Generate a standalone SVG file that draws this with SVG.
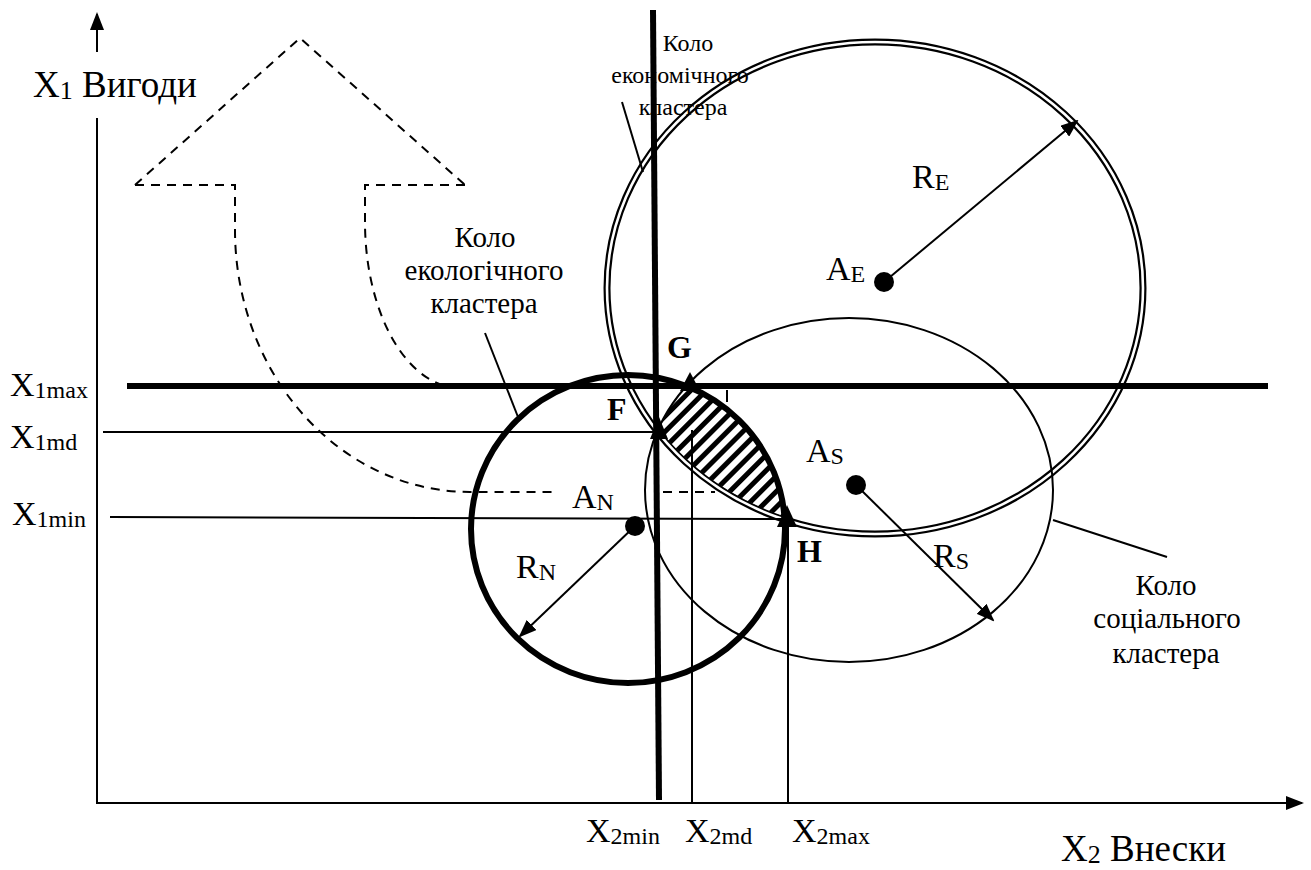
<svg xmlns="http://www.w3.org/2000/svg" width="1311" height="870" viewBox="0 0 1311 870">
<style>
.lbl{font-size:34px}
.ttl{font-size:37px}
.sub{font-size:24px}
.subT{font-size:26px}
.cap{font-size:29px;text-anchor:middle}
.capS{font-size:24px;text-anchor:middle}
.bold{font-size:32px;font-weight:bold}
.thin{stroke:#000;stroke-width:2;fill:none}
.thick{stroke:#000;stroke-width:6;fill:none}
.dash{stroke:#000;stroke-width:2;fill:none;stroke-dasharray:9,7}
</style>
<defs>
<marker id="ah" markerUnits="userSpaceOnUse" markerWidth="18" markerHeight="14" refX="16" refY="7" orient="auto">
<path d="M0,0 L18,7 L0,14 Z" fill="#000"/>
</marker>
<pattern id="hatch" patternUnits="userSpaceOnUse" width="11" height="11" patternTransform="rotate(-45)">
<rect width="11" height="11" fill="#fff"/>
<rect y="3" width="11" height="5" fill="#000"/>
</pattern>
<clipPath id="cE"><ellipse cx="875" cy="288" rx="265" ry="243"/></clipPath>
<clipPath id="cS"><ellipse cx="849" cy="490" rx="204" ry="172"/></clipPath>
<clipPath id="cN"><ellipse cx="628" cy="529" rx="157" ry="154"/></clipPath>
</defs>
<rect width="1311" height="870" fill="#fff"/>

<g id="axes">
<line class="thin" x1="97" y1="52" x2="97" y2="14" marker-end="url(#ah)"/>
<line class="thin" x1="97" y1="118" x2="97" y2="803"/>
<line class="thin" x1="96" y1="803" x2="1302" y2="803" marker-end="url(#ah)"/>
</g>

<g id="big-arrow">
<path class="dash" d="M135,185 L300,38 L465,185"/>
<path class="dash" d="M135,185 L235,185 L235,230 A235,262 0 0 0 470,492 L552,492"/>
<path class="dash" d="M663,492 L715,492"/>
<path class="dash" d="M465,185 L365,185 L365,220 A95,166 0 0 0 460,388 L560,388"/>
</g>

<g id="economic-circle">
<ellipse cx="875" cy="288" rx="268" ry="246" fill="none" stroke="#000" stroke-width="7"/>
<ellipse cx="875" cy="288" rx="268" ry="246" fill="none" stroke="#fff" stroke-width="2.6"/>
</g>

<g id="hatched-area" clip-path="url(#cE)">
<g clip-path="url(#cS)">
<rect x="640" y="370" width="160" height="170" fill="url(#hatch)" clip-path="url(#cN)"/>
</g>
</g>

<g id="social-circle">
<ellipse class="thin" cx="849" cy="490" rx="204" ry="172"/>
</g>

<g id="ecological-circle">
<ellipse class="thick" cx="628" cy="529" rx="157" ry="154" stroke-width="5"/>
</g>

<g id="connectors">
<line class="thick" x1="127" y1="386" x2="1268" y2="386"/>
<line class="thick" x1="653" y1="10" x2="659" y2="800"/>
<line class="thin" x1="103" y1="432" x2="657" y2="432"/>
<line class="thin" x1="110" y1="517" x2="787" y2="519"/>
<line class="thin" x1="692" y1="430" x2="692" y2="803"/>
<line class="thin" x1="788" y1="522" x2="788" y2="803"/>
<line class="thin" x1="727" y1="390" x2="727" y2="402"/>
<line class="thin" x1="622" y1="102" x2="643" y2="172"/>
<line class="thin" x1="485" y1="333" x2="518" y2="417"/>
<line class="thin" x1="1053" y1="520" x2="1167" y2="557"/>
<line class="thin" x1="884" y1="282" x2="1077" y2="121" marker-end="url(#ah)"/>
<line class="thin" x1="855" y1="484" x2="993" y2="620" marker-end="url(#ah)"/>
<line class="thin" x1="635" y1="526" x2="520" y2="636" marker-end="url(#ah)"/>
</g>

<g id="points">
<circle cx="884" cy="282" r="10"/>
<circle cx="856" cy="485" r="10"/>
<circle cx="635" cy="526" r="10"/>
<path d="M659,417 L668,439 L650,439 Z"/>
<path d="M690,372 L700,391 L680,391 Z"/>
<path d="M787,505 L797,527 L777,527 Z"/>
</g>

<g id="labels" fill="#000">
<text font-family="Liberation Serif, serif" class="ttl" x="33" y="97">X<tspan class="subT" dy="2">1</tspan><tspan dy="-2"> Вигоди</tspan></text>
<text font-family="Liberation Serif, serif" class="ttl" x="1061" y="861">X<tspan class="subT" dy="2">2</tspan><tspan dy="-2"> Внески</tspan></text>
<text font-family="Liberation Serif, serif" class="lbl" x="10" y="396">X<tspan class="sub" dy="2">1max</tspan></text>
<text font-family="Liberation Serif, serif" class="lbl" x="10" y="448">X<tspan class="sub" dy="2">1md</tspan></text>
<text font-family="Liberation Serif, serif" class="lbl" x="12" y="525">X<tspan class="sub" dy="2">1min</tspan></text>
<text font-family="Liberation Serif, serif" class="lbl" x="586" y="842">X<tspan class="sub" dy="2">2min</tspan></text>
<text font-family="Liberation Serif, serif" class="lbl" x="685" y="842">X<tspan class="sub" dy="2">2md</tspan></text>
<text font-family="Liberation Serif, serif" class="lbl" x="792" y="842">X<tspan class="sub" dy="2">2max</tspan></text>
<text font-family="Liberation Serif, serif" class="lbl" x="912" y="188">R<tspan class="sub" dy="2">E</tspan></text>
<text font-family="Liberation Serif, serif" class="lbl" x="826" y="280">A<tspan class="sub" dy="2">E</tspan></text>
<text font-family="Liberation Serif, serif" class="lbl" x="806" y="462">A<tspan class="sub" dy="2">S</tspan></text>
<text font-family="Liberation Serif, serif" class="lbl" x="572" y="508">A<tspan class="sub" dy="2">N</tspan></text>
<text font-family="Liberation Serif, serif" class="lbl" x="516" y="578">R<tspan class="sub" dy="2">N</tspan></text>
<text font-family="Liberation Serif, serif" class="lbl" x="933" y="567">R<tspan class="sub" dy="2">S</tspan></text>
<text font-family="Liberation Serif, serif" class="bold" x="667" y="358">G</text>
<text font-family="Liberation Serif, serif" class="bold" x="607" y="420">F</text>
<text font-family="Liberation Serif, serif" class="bold" x="797" y="562">H</text>
<text font-family="Liberation Serif, serif" class="capS" x="688" y="51">Коло</text>
<text font-family="Liberation Serif, serif" class="capS" x="680" y="83">економічного</text>
<text font-family="Liberation Serif, serif" class="capS" x="683" y="115">кластера</text>
<text font-family="Liberation Serif, serif" class="cap" x="485" y="247">Коло</text>
<text font-family="Liberation Serif, serif" class="cap" x="484" y="280">екологічного</text>
<text font-family="Liberation Serif, serif" class="cap" x="484" y="313">кластера</text>
<text font-family="Liberation Serif, serif" class="cap" x="1166" y="595">Коло</text>
<text font-family="Liberation Serif, serif" class="cap" x="1167" y="628">соціального</text>
<text font-family="Liberation Serif, serif" class="cap" x="1166" y="663">кластера</text>
</g>
</svg>
